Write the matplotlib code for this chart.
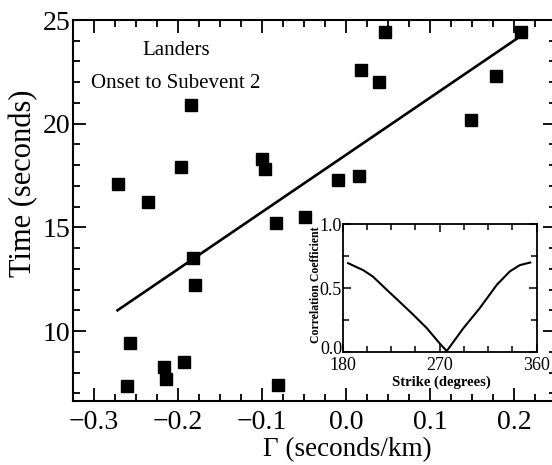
import matplotlib
matplotlib.use("Agg")
import matplotlib.pyplot as plt
import matplotlib.transforms as mtransforms
from matplotlib.ticker import MultipleLocator, FixedLocator, FixedFormatter

plt.rcParams['font.family'] = ['Liberation Serif', 'DejaVu Serif']
plt.rcParams['axes.unicode_minus'] = True

# ---- data ----
gamma = [-0.271, -0.236, -0.196, -0.185, -0.100, -0.096, -0.083, -0.049,
         -0.010, 0.015, 0.018, 0.039, 0.046, 0.149, 0.179, 0.208,
         -0.182, -0.180, -0.257, -0.261, -0.217, -0.214, -0.193, -0.081]
time_s = [17.1, 16.2, 17.9, 20.9, 18.3, 17.8, 15.2, 15.5,
          17.3, 17.5, 22.6, 22.0, 24.4, 20.2, 22.3, 24.4,
          13.5, 12.2, 9.4, 7.35, 8.25, 7.7, 8.5, 7.4]
fit_gamma = [-0.272, 0.207]
fit_time = [11.0, 24.2]

strike = [185, 199, 208, 221, 233, 245.5, 258, 270, 276.5, 292, 307, 323, 335, 344.5, 354]
corr = [0.695, 0.64, 0.59, 0.485, 0.39, 0.29, 0.185, 0.065, 0.005, 0.185, 0.34,
        0.525, 0.63, 0.68, 0.70]

x_ticks = [-0.3, -0.2, -0.1, 0.0, 0.1, 0.2]
x_labels = ['\u22120.3', '\u22120.2', '\u22120.1', '0.0', '0.1', '0.2']
y_ticks = [10, 15, 20, 25]
ins_x_ticks = [180, 270, 360]
ins_y_ticks = [0.0, 0.5, 1.0]
ins_y_labels = ['0.0', '0.5', '1.0']

W, H = 552, 465
fig = plt.figure(figsize=(W / 100, H / 100), dpi=100)
fig.patch.set_facecolor('white')

# main axes
L, R, T, B = 73, 556, 20, 400.5
ax = fig.add_axes([L / W, 1 - B / H, (R - L) / W, (B - T) / H])
ax.plot(gamma, time_s, 's', color='black', markersize=8.3)
ax.plot(fit_gamma, fit_time, '-', color='black', linewidth=1.9)
ax.set_xlim(-0.325, 0.25)
ax.set_ylim(6.65, 25)
ax.xaxis.set_major_locator(FixedLocator(x_ticks))
ax.xaxis.set_major_formatter(FixedFormatter(x_labels))
ax.xaxis.set_minor_locator(MultipleLocator(0.025))
ax.yaxis.set_major_locator(FixedLocator(y_ticks))
ax.yaxis.set_minor_locator(MultipleLocator(1))
ax.tick_params(which='both', direction='in', top=True, right=True, width=1.3,
               labelsize=20)
ax.tick_params(which='major', length=9.4)
ax.tick_params(which='minor', length=4.8)
ax.tick_params(axis='x', pad=7)
ax.tick_params(axis='y', pad=2)
for s in ax.spines.values():
    s.set_linewidth(1.5)

ax.text((176 - L) / (R - L), (B - 50.5) / (B - T), 'Landers', transform=ax.transAxes,
        ha='center', va='center', fontsize=15)
ax.text((176 - L) / (R - L), (B - 83) / (B - T), 'Onset to Subevent 2',
        transform=ax.transAxes, ha='center', va='center', fontsize=15)

fig.text(24 / W, 1 - 183 / H, 'Time (seconds)', rotation=90, ha='center',
         va='center', fontsize=22)
fig.text(347 / W, 1 - 456 / H, '\u0393 (seconds/km)', ha='center', va='baseline',
         fontsize=19.5)

# inset axes
iL, iR, iT, iB = 342.7, 536.7, 224.3, 351.7
ins = fig.add_axes([iL / W, 1 - iB / H, (iR - iL) / W, (iB - iT) / H])
ins.plot(strike, corr, '-', color='black', linewidth=1.5)
ins.set_xlim(180, 360)
ins.set_ylim(0, 1)
ins.xaxis.set_major_locator(FixedLocator(ins_x_ticks))
ins.xaxis.set_minor_locator(MultipleLocator(22.5))
ins.yaxis.set_major_locator(FixedLocator(ins_y_ticks))
ins.yaxis.set_major_formatter(FixedFormatter(ins_y_labels))
ins.yaxis.set_minor_locator(MultipleLocator(0.25))
ins.tick_params(which='both', direction='in', top=True, right=True, width=1.1,
                labelsize=13)
ins.tick_params(which='major', length=6)
ins.tick_params(which='minor', length=4.3)
ins.tick_params(axis='x', pad=3.5)
ins.tick_params(axis='y', pad=0.5)
for s in ins.spines.values():
    s.set_linewidth(1.3)
# the lowest inset y label sits slightly above its tick in the reference
shift_up = mtransforms.ScaledTranslation(0, 4 / 100, fig.dpi_scale_trans)
ytl = ins.yaxis.get_major_ticks()[0].label1
ytl.set_transform(ytl.get_transform() + shift_up)

fig.text(316 / W, 1 - 284.5 / H, 'Correlation Coefficient', rotation=90,
         ha='center', va='center', fontsize=8.5, fontweight='bold')
fig.text(441 / W, 1 - 382 / H, 'Strike (degrees)', ha='center', va='center',
         fontsize=10.5, fontweight='bold')

fig.savefig('out.png', dpi=100, facecolor='white')
